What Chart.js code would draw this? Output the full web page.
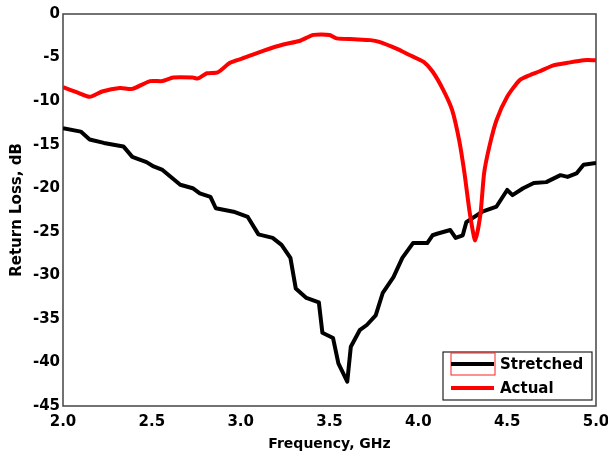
<!DOCTYPE html>
<html><head><meta charset="utf-8">
<script src="https://cdn.jsdelivr.net/npm/chart.js@4/dist/chart.umd.min.js"></script>
<style>html,body{margin:0;padding:0;background:#fff}</style>
</head><body>
<canvas id="c" width="608" height="455"></canvas>
<script>
const seriesNames = ['Stretched', 'Actual'];
const freqStretched = [2.00, 2.10, 2.15, 2.23, 2.34, 2.39, 2.47, 2.51, 2.56, 2.66, 2.73, 2.77, 2.83, 2.86, 2.96, 3.04, 3.10, 3.18, 3.23, 3.28, 3.31, 3.37, 3.44, 3.46, 3.52, 3.55, 3.60, 3.62, 3.67, 3.71, 3.76, 3.80, 3.86, 3.91, 3.97, 4.05, 4.08, 4.11, 4.18, 4.21, 4.25, 4.27, 4.36, 4.44, 4.50, 4.53, 4.59, 4.65, 4.72, 4.80, 4.84, 4.89, 4.93, 5.00];
const dbStretched = [-13.1, -13.5, -14.4, -14.8, -15.2, -16.4, -17.0, -17.5, -17.9, -19.6, -20.0, -20.6, -21.0, -22.3, -22.7, -23.3, -25.3, -25.7, -26.5, -28.0, -31.5, -32.6, -33.1, -36.6, -37.2, -40.1, -42.2, -38.2, -36.3, -35.7, -34.6, -32.0, -30.2, -28.0, -26.3, -26.3, -25.4, -25.2, -24.8, -25.7, -25.4, -23.9, -22.7, -22.1, -20.2, -20.8, -20.0, -19.4, -19.3, -18.5, -18.7, -18.3, -17.3, -17.1];
const freqActual = [2.00, 2.08, 2.15, 2.22, 2.32, 2.39, 2.49, 2.56, 2.62, 2.73, 2.76, 2.81, 2.87, 2.94, 3.01, 3.13, 3.24, 3.33, 3.41, 3.50, 3.54, 3.64, 3.73, 3.78, 3.88, 3.95, 4.03, 4.08, 4.14, 4.19, 4.23, 4.26, 4.29, 4.32, 4.35, 4.37, 4.40, 4.44, 4.50, 4.57, 4.63, 4.68, 4.76, 4.84, 4.93, 5.00];
const dbActual = [-8.4, -9.0, -9.5, -8.9, -8.5, -8.6, -7.7, -7.7, -7.3, -7.3, -7.4, -6.8, -6.7, -5.6, -5.1, -4.2, -3.5, -3.1, -2.4, -2.4, -2.8, -2.9, -3.0, -3.2, -4.0, -4.7, -5.5, -6.6, -8.7, -11.0, -14.5, -18.3, -22.9, -26.0, -22.9, -18.3, -15.2, -12.2, -9.5, -7.6, -7.0, -6.6, -5.9, -5.6, -5.3, -5.3];
const xTickValues = [2.0, 2.5, 3.0, 3.5, 4.0, 4.5, 5.0];
const yTickValues = [0, -5, -10, -15, -20, -25, -30, -35, -40, -45];
const xTitle = 'Frequency, GHz';
const yTitle = 'Return Loss, dB';

const toPts = (xs, ys) => xs.map((x, i) => ({x: x, y: ys[i]}));
const FONT = 'DejaVu Sans';

const frameAndLegend = {
  id: 'frameAndLegend',
  beforeDatasetsDraw(chart) {
    const {ctx, chartArea: a} = chart;
    ctx.save();
    ctx.strokeStyle = '#444';
    ctx.lineWidth = 1.5;
    ctx.strokeRect(a.left, a.top, a.right - a.left, a.bottom - a.top);
    ctx.restore();
  },
  afterDraw(chart) {
    const {ctx, chartArea: a} = chart;
    const bx = a.right - 153, by = a.bottom - 54, bw = 149, bh = 48;
    ctx.save();
    ctx.fillStyle = '#fff';
    ctx.fillRect(bx, by, bw, bh);
    ctx.strokeStyle = '#222';
    ctx.lineWidth = 1.2;
    ctx.strokeRect(bx, by, bw, bh);
    chart.data.datasets.forEach((ds, i) => {
      const ly = by + 12 + i * 24;
      if (i === 0) {
        ctx.strokeStyle = '#ff2020';
        ctx.lineWidth = 1;
        ctx.strokeRect(bx + 8, ly - 11, 44, 22);
      }
      ctx.strokeStyle = ds.borderColor;
      ctx.lineWidth = 4;
      ctx.beginPath();
      ctx.moveTo(bx + 8, ly);
      ctx.lineTo(bx + 51, ly);
      ctx.stroke();
      ctx.fillStyle = '#000';
      ctx.font = 'bold 15px "' + FONT + '"';
      ctx.textBaseline = 'middle';
      ctx.fillText(ds.label, bx + 57, ly + 1);
    });
    ctx.restore();
  }
};

new Chart(document.getElementById('c'), {
  type: 'line',
  data: {
    datasets: [
      {label: seriesNames[0], data: toPts(freqStretched, dbStretched), borderColor: '#000000', borderWidth: 4, borderJoinStyle: 'round', pointRadius: 0, tension: 0, fill: false, order: 2},
      {label: seriesNames[1], data: toPts(freqActual, dbActual), borderColor: '#ff0000', borderWidth: 4, borderJoinStyle: 'round', pointRadius: 0, tension: 0.2, fill: false, order: 1}
    ]
  },
  options: {
    responsive: false,
    animation: false,
    layout: {padding: {top: 14, right: 12, bottom: 0, left: 0}},
    plugins: {legend: {display: false}, tooltip: {enabled: false}},
    scales: {
      x: {
        type: 'linear', min: 2, max: 5,
        afterBuildTicks: s => { s.ticks = xTickValues.map(v => ({value: v})); },
        afterFit: s => { s.height = 49; s.paddingRight = 0; s.paddingLeft = 0; },
        grid: {display: false, drawTicks: false},
        border: {display: false},
        ticks: {color: '#000', padding: 7, font: {family: FONT, size: 15, weight: 'bold'}, callback: v => Number(v).toFixed(1), maxRotation: 0},
        title: {display: true, text: xTitle, color: '#000', padding: {top: 0, bottom: 2}, font: {family: FONT, size: 14, weight: 'bold'}}
      },
      y: {
        type: 'linear', min: -45, max: 0,
        afterBuildTicks: s => { s.ticks = yTickValues.map(v => ({value: v})); },
        afterFit: s => { s.width = 63; s.paddingTop = 0; s.paddingBottom = 0; },
        grid: {display: false, drawTicks: false},
        border: {display: false},
        ticks: {color: '#000', padding: 3, font: {family: FONT, size: 15, weight: 'bold'}},
        title: {display: true, text: yTitle, color: '#000', padding: {top: 8, bottom: 0}, font: {family: FONT, size: 15, weight: 'bold'}}
      }
    }
  },
  plugins: [frameAndLegend]
});
</script>
</body></html>
